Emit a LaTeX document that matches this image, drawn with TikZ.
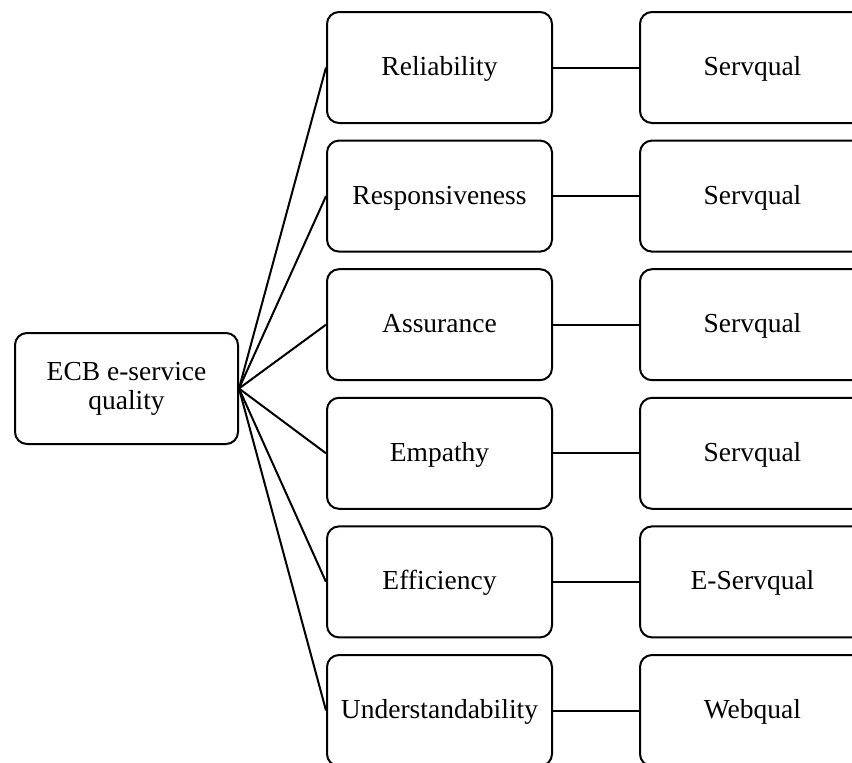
\documentclass[tikz,border=0pt]{standalone}
\usepackage{fontspec}
\setmainfont{Liberation Serif}
\begin{document}
\begin{tikzpicture}[x=1pt,y=-1pt,
  box/.style={draw=black,line width=2pt,rounded corners=12pt,fill=white,
    minimum width=223pt,minimum height=111pt,align=center,inner sep=0pt,
    font=\fontsize{27.5}{29}\selectfont},
  onebox/.style={box,minimum width=225pt,text height=21pt,text depth=5pt},
  link/.style={draw=black,line width=2pt}]
\useasboundingbox (0,0) rectangle (852,763);
\clip (0,0) rectangle (852,763);
\node[box] (root) at (126.5,388.5) {ECB e-service\\quality};
\foreach \i/\lab/\src in {1/Reliability/Servqual,2/Responsiveness/Servqual,3/Assurance/Servqual,4/Empathy/Servqual,5/Efficiency/E-Servqual,6/Understandability/Webqual}{
  \pgfmathsetmacro{\cy}{67.5+128.6*(\i-1)}
  \node[onebox] (m\i) at (439.5,\cy) {\lab};
  \node[onebox] (r\i) at (752.5,\cy) {\src};
  \draw[link] (root.east) -- (m\i.west);
  \draw[link] (m\i.east) -- (r\i.west);
}
\end{tikzpicture}
\end{document}
